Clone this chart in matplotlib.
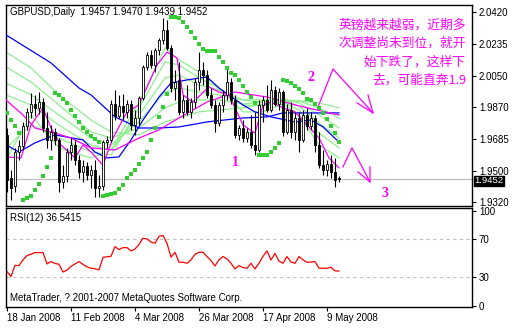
"""Script to redraw the GBPUSD daily chart with the RSI panel under it"""

import matplotlib
matplotlib.use('Agg')
import matplotlib.pyplot as plt

# one bar per trading day, bar 0 = 18 Jan 2008
opens = [1.9709, 1.9460, 1.9414, 1.9610, 1.9645, 1.9761, 1.9842, 1.9888, 1.9865, 1.9899,
         1.9749, 1.9680, 1.9726, 1.9680, 1.9437, 1.9472, 1.9610, 1.9651, 1.9564, 1.9495,
         1.9530, 1.9478, 1.9507, 1.9402, 1.9414, 1.9668, 1.9680, 1.9888, 1.9818, 1.9876,
         1.9842, 1.9888, 1.9766, 1.9807, 1.9923, 2.0102, 2.0171, 2.0113, 2.0200, 2.0258,
         2.0316, 2.0212, 1.9980, 2.0027, 1.9842, 1.9911, 1.9842, 1.9899, 2.0015, 2.0084,
         2.0056, 1.9940, 1.9882, 1.9778, 1.9882, 1.9940, 2.0015, 1.9911, 1.9709, 1.9749,
         1.9691, 1.9726, 1.9651, 1.9622, 1.9882, 1.9911, 1.9853, 1.9969, 1.9888, 1.9957,
         1.9726, 1.9853, 1.9726, 1.9807, 1.9680, 1.9824, 1.9761, 1.9807, 1.9651, 1.9535,
         1.9507, 1.9541, 1.9495, 1.9457]
highs = [1.9749, 1.9507, 1.9634, 1.9680, 1.9784, 1.9865, 1.9951, 1.9940, 1.9957, 1.9923,
         1.9842, 1.9766, 1.9749, 1.9691, 1.9535, 1.9634, 1.9691, 1.9680, 1.9593, 1.9564,
         1.9553, 1.9535, 1.9564, 1.9478, 1.9680, 1.9703, 1.9911, 1.9969, 1.9940, 1.9946,
         1.9911, 1.9911, 1.9853, 1.9934, 2.0113, 2.0188, 2.0200, 2.0212, 2.0269, 2.0385,
         2.0373, 2.0229, 2.0084, 2.0131, 1.9940, 1.9998, 1.9923, 2.0038, 2.0188, 2.0131,
         2.0084, 1.9980, 1.9911, 1.9899, 1.9969, 2.0096, 2.0038, 1.9940, 1.9766, 1.9795,
         1.9749, 1.9824, 1.9842, 1.9911, 1.9934, 1.9998, 2.0027, 1.9992, 1.9980, 1.9969,
         1.9888, 1.9899, 1.9842, 1.9842, 1.9853, 1.9865, 1.9842, 1.9824, 1.9726, 1.9622,
         1.9564, 1.9593, 1.9576, 1.9470]
lows = [1.9379, 1.9333, 1.9379, 1.9564, 1.9622, 1.9738, 1.9807, 1.9818, 1.9830, 1.9726,
        1.9634, 1.9622, 1.9651, 1.9379, 1.9402, 1.9437, 1.9564, 1.9535, 1.9460, 1.9437,
        1.9449, 1.9402, 1.9350, 1.9350, 1.9391, 1.9634, 1.9668, 1.9795, 1.9807, 1.9795,
        1.9807, 1.9738, 1.9709, 1.9766, 1.9911, 2.0084, 2.0096, 2.0073, 2.0171, 2.0235,
        2.0200, 1.9957, 1.9911, 1.9824, 1.9807, 1.9824, 1.9807, 1.9865, 1.9969, 1.9998,
        1.9923, 1.9865, 1.9726, 1.9761, 1.9842, 1.9911, 1.9888, 1.9691, 1.9680, 1.9668,
        1.9668, 1.9634, 1.9593, 1.9610, 1.9784, 1.9842, 1.9842, 1.9876, 1.9853, 1.9703,
        1.9714, 1.9691, 1.9680, 1.9610, 1.9668, 1.9738, 1.9738, 1.9610, 1.9518, 1.9478,
        1.9472, 1.9460, 1.9408, 1.9439]
closes = [1.9449, 1.9402, 1.9610, 1.9645, 1.9761, 1.9842, 1.9888, 1.9865, 1.9899, 1.9749,
          1.9680, 1.9726, 1.9680, 1.9437, 1.9472, 1.9610, 1.9651, 1.9564, 1.9495, 1.9530,
          1.9478, 1.9507, 1.9402, 1.9414, 1.9668, 1.9680, 1.9888, 1.9818, 1.9876, 1.9842,
          1.9888, 1.9766, 1.9807, 1.9923, 2.0102, 2.0171, 2.0113, 2.0200, 2.0258, 2.0316,
          2.0212, 1.9980, 2.0015, 1.9842, 1.9911, 1.9842, 1.9899, 2.0015, 2.0084, 2.0056,
          1.9940, 1.9882, 1.9778, 1.9882, 1.9940, 2.0015, 1.9911, 1.9709, 1.9749, 1.9691,
          1.9726, 1.9651, 1.9622, 1.9882, 1.9911, 1.9853, 1.9969, 1.9888, 1.9957, 1.9726,
          1.9853, 1.9726, 1.9807, 1.9680, 1.9824, 1.9761, 1.9807, 1.9651, 1.9535, 1.9507,
          1.9541, 1.9495, 1.9449, 1.9452]

# parabolic SAR, one dot per bar
sar = [1.9836, 1.9795, 1.9761, 1.9720, 1.9333, 1.9345, 1.9356, 1.9391, 1.9426, 1.9472,
       1.9524, 1.9576, 1.9951, 1.9940, 1.9917, 1.9894, 1.9853, 1.9818, 1.9784, 1.9749,
       1.9726, 1.9703, 1.9686, 1.9668, 1.9356, 1.9362, 1.9368, 1.9374, 1.9397, 1.9420,
       1.9460, 1.9483, 1.9507, 1.9541, 1.9576, 1.9610, 1.9680, 1.9749, 1.9813, 1.9871,
       1.9946, 2.0391, 2.0391, 2.0385, 2.0362, 2.0333, 2.0304, 2.0269, 2.0235, 2.0206,
       2.0194, 2.0194, 2.0194, 2.0160, 2.0131, 2.0096, 2.0067, 2.0056, 2.0027, 1.9992,
       1.9957, 1.9928, 1.9894, 1.9593, 1.9593, 1.9593, 1.9610, 1.9634, 1.9663, 2.0027,
       2.0021, 2.0009, 1.9992, 1.9975, 1.9951, 1.9917, 1.9911, 1.9888, 1.9865, 1.9836,
       1.9801, 1.9761, 1.9720, 1.9668]

# moving averages at a few bars each
blue_slow_bars = [-0.25, 11, 18, 21, 27, 33, 38, 43, 50, 59, 65, 69, 83]
blue_slow = [2.0287, 2.0125, 1.9980, 1.9940, 1.9813, 1.9749, 1.9749, 1.9755, 1.9784,
             1.9807, 1.9813, 1.9836, 1.9836]
blue_mid_bars = [-0.25, 3, 7, 12, 19, 22, 25, 28, 31, 34, 38, 41, 45, 50, 53, 59, 62, 66,
                 72, 76, 79, 83]
blue_mid = [1.9651, 1.9610, 1.9663, 1.9709, 1.9680, 1.9610, 1.9576, 1.9582, 1.9680, 1.9795,
            1.9928, 2.0009, 2.0027, 2.0044, 1.9980, 1.9882, 1.9842, 1.9813, 1.9784, 1.9795,
            1.9755, 1.9668]
pink_slow_bars = [-0.25, 4, 7, 12, 16, 21, 27, 33, 38, 43, 50, 55, 57, 65, 72, 83]
pink_slow = [1.9911, 1.9824, 1.9749, 1.9720, 1.9691, 1.9634, 1.9622, 1.9691, 1.9738, 1.9807,
             1.9899, 1.9940, 1.9957, 1.9928, 1.9882, 1.9824]
pink_fast_bars = [-0.25, 3.5, 6, 9, 11, 13.5, 17, 19, 21, 24, 26.5, 30, 33, 37.5, 40, 42.5,
                  44, 46.5, 50.5, 53, 55.5, 59, 62, 64, 66, 69, 72, 75.5, 78, 80.5, 83]
pink_fast = [1.9582, 1.9576, 1.9766, 1.9865, 1.9749, 1.9651, 1.9576, 1.9651, 1.9610, 1.9535,
             1.9691, 1.9842, 1.9882, 2.0113, 2.0188, 2.0154, 1.9940, 1.9899, 1.9986, 1.9957,
             1.9940, 1.9766, 1.9720, 1.9882, 1.9899, 1.9865, 1.9842, 1.9755, 1.9691, 1.9576,
             1.9518]
green_bars = [-0.25, 6, 13, 21, 26, 33, 39.5, 43, 48, 53, 59, 64, 69, 73, 78, 83]
green_1 = [2.0188, 2.0096, 1.9940, 1.9795, 1.9726, 1.9709, 1.9784, 1.9807, 1.9842, 1.9853,
           1.9865, 1.9888, 1.9899, 1.9905, 1.9894, 1.9865]
green_2 = [2.0102, 2.0015, 1.9882, 1.9726, 1.9691, 1.9749, 1.9865, 1.9899, 1.9911, 1.9911,
           1.9888, 1.9899, 1.9911, 1.9905, 1.9865, 1.9807]
green_3 = [2.0009, 1.9940, 1.9824, 1.9691, 1.9651, 1.9784, 1.9957, 1.9980, 1.9957, 1.9940,
           1.9911, 1.9911, 1.9917, 1.9894, 1.9824, 1.9749]
green_4 = [1.9940, 1.9882, 1.9766, 1.9651, 1.9622, 1.9824, 2.0038, 2.0056, 1.9998, 1.9969,
           1.9911, 1.9899, 1.9911, 1.9876, 1.9778, 1.9691]
green_5 = [1.9634, 1.9766, 1.9691, 1.9610, 1.9593, 1.9865, 2.0131, 2.0113, 2.0038, 1.9980,
           1.9882, 1.9876, 1.9899, 1.9853, 1.9720, 1.9634]
green_6 = [1.9564, 1.9824, 1.9634, 1.9576, 1.9622, 1.9899, 2.0212, 2.0142, 2.0073, 1.9980,
           1.9842, 1.9842, 1.9888, 1.9824, 1.9651, 1.9576]

rsi = [36.0, 30.7, 42.5, 42.3, 48.3, 52.8, 54.2, 56.0, 56.0, 56.0,
       44.0, 46.5, 44.5, 43.7, 35.5, 37.5, 41.5, 44.0, 46.5, 43.5,
       41.0, 39.5, 39.0, 37.7, 51.0, 51.5, 52.1, 62.3, 59.1, 61.2,
       61.2, 57.7, 59.8, 64.5, 71.1, 70.4, 67.0, 65.8, 73.2, 73.9,
       65.8, 51.1, 56.3, 45.8, 45.8, 44.7, 48.3, 54.2, 56.3, 56.3,
       51.8, 47.6, 41.9, 48.5, 51.8, 49.3, 44.7, 38.8, 42.3, 40.2,
       39.5, 44.7, 38.8, 44.7, 52.0, 57.7, 48.3, 55.0, 47.0, 44.7,
       51.8, 46.0, 44.7, 51.8, 48.3, 45.8, 46.0, 46.5, 39.5, 39.5,
       39.5, 40.5, 36.7, 36.5415]

price_ticks = [2.0420, 2.0235, 2.0050, 1.9870, 1.9685, 1.9500, 1.9320]
rsi_ticks = [100, 70, 30, 0]
date_bars = [0, 16, 32, 48, 64, 80]
date_labels = ['18 Jan 2008', '11 Feb 2008', '4 Mar 2008', '26 Mar 2008',
               '17 Apr 2008', '9 May 2008']

# hand drawn arrows and notes, in (bar, price)
arrow_one = [(77.75, 1.9871), (81.5, 2.0090), (91.5, 1.9836)]
arrow_one_head = [(90.25, 1.9940), (91.5, 1.9836), (87.5, 1.9894)]
arrow_two = [(84, 1.9524), (86.25, 1.9634), (90.75, 1.9437)]
arrow_two_head = [(90.75, 1.9524), (90.75, 1.9437), (87.75, 1.9495)]
marks = [('1', 57, 1.9547), ('2', 76, 2.0038), ('3', 94.5, 1.9368)]
note_lines = ['英镑越来越弱，近期多', '次调整尚未到位，就开', '始下跌了，这样下', '去，可能直奔1.9']
note_prices = [2.0345, 2.0240, 2.0131, 2.0027]

PINK = '#ff00ff'
FONT = 'Liberation Sans'


def style_panel(ax, ticks, labels):
    """Black frame with the scale on the right like MetaTrader"""
    for side in ax.spines.values():
        side.set_color('black')
        side.set_linewidth(1.0)
    ax.set_xlim(-0.25, 116.25)
    ax.yaxis.tick_right()
    ax.set_yticks(ticks)
    ax.set_yticklabels(labels, fontsize=7, family=FONT)
    ax.tick_params(axis='y', direction='out', length=3, width=0.8, pad=2)
    ax.set_xticks([])


def draw_candles(ax):
    """Draws the candlesticks"""
    bars = range(len(opens))
    ax.vlines(bars, lows, highs, color='black', linewidth=0.8, zorder=4)
    for i in bars:
        low_end = min(opens[i], closes[i])
        size = abs(closes[i] - opens[i])
        fill = 'white' if closes[i] > opens[i] else 'black'
        ax.bar(i, max(size, 0.00005), bottom=low_end, width=0.62, color=fill,
               edgecolor='black', linewidth=0.6, zorder=5)


def draw_indicators(ax):
    """Moving averages and parabolic SAR"""
    for line in [green_1, green_2, green_3, green_4, green_5, green_6]:
        ax.plot(green_bars, line, color='#90ee90', linewidth=0.9, zorder=2)
    ax.plot(blue_slow_bars, blue_slow, color='#0000ff', linewidth=0.9, zorder=3)
    ax.plot(blue_mid_bars, blue_mid, color='#0000ff', linewidth=0.9, zorder=3)
    ax.plot(pink_slow_bars, pink_slow, color=PINK, linewidth=0.9, zorder=3)
    ax.plot(pink_fast_bars, pink_fast, color=PINK, linewidth=0.9, zorder=3)
    ax.plot(range(len(sar)), sar, linestyle='none', marker='s', markersize=3.0,
            markeredgewidth=0, color='#33cc33', zorder=6)


def draw_notes(ax):
    """Arrows, numbers and the chinese comment"""
    for path in [arrow_one, arrow_one_head, arrow_two, arrow_two_head]:
        ax.plot([p[0] for p in path], [p[1] for p in path], color=PINK, linewidth=0.9)
    for text, bar, price in marks:
        ax.text(bar, price, text, color=PINK, fontsize=10, fontweight='bold',
                family='Liberation Serif', ha='center', va='center')
    for line, price in zip(note_lines, note_prices):
        ax.text(114.75, price, line, color=PINK, fontsize=9.2, ha='right', va='center',
                family=['Noto Sans CJK SC', 'DejaVu Sans'])


if __name__ == "__main__":
    fig = plt.figure(figsize=(5.14, 3.28), dpi=100)
    fig.patch.set_facecolor('white')

    # price panel
    ax = fig.add_axes([6 / 514, 1 - 206 / 328, 466 / 514, 201 / 328])
    style_panel(ax, price_ticks, ['%.4f' % p for p in price_ticks])
    ax.set_ylim(1.9298, 2.0460)
    last = closes[-1]
    ax.axhline(last, color='#c0c0c0', linewidth=0.9, zorder=1)
    draw_indicators(ax)
    draw_candles(ax)
    draw_notes(ax)
    ax.text(0.008, 0.965, 'GBPUSD,Daily  %.4f %.4f %.4f %.4f'
            % (opens[-1], highs[-1], lows[-1], closes[-1]),
            transform=ax.transAxes, fontsize=7, family=FONT, va='center')
    ax.text(1.005, last - 0.0009, '%.4f' % last, transform=ax.get_yaxis_transform(),
            color='white', fontsize=6.8, family=FONT, va='center', ha='left',
            bbox=dict(facecolor='black', edgecolor='black', pad=0.3), clip_on=False)

    # RSI panel
    ax2 = fig.add_axes([6 / 514, 1 - 307 / 328, 466 / 514, 99 / 328])
    style_panel(ax2, rsi_ticks, [str(t) for t in rsi_ticks])
    ax2.set_ylim(-1.3, 102.9)
    for level in [70, 30]:
        ax2.axhline(level, color='#c0c0c0', linewidth=0.8, linestyle=(0, (3, 3)))
    ax2.plot(range(len(rsi)), rsi, color='red', linewidth=0.9)
    ax2.text(0.008, 0.9, 'RSI(12) %.4f' % rsi[-1], transform=ax2.transAxes,
             fontsize=7, family=FONT, va='center')
    ax2.text(0.008, 0.09, 'MetaTrader, ? 2001-2007 MetaQuotes Software Corp.',
             transform=ax2.transAxes, fontsize=7, family=FONT, va='center')
    ax2.set_xticks(date_bars)
    ax2.set_xticklabels(date_labels, fontsize=7, family=FONT, ha='left')
    ax2.tick_params(axis='x', direction='out', length=3, width=0.8, pad=1)

    fig.savefig('out.png', dpi=100)
